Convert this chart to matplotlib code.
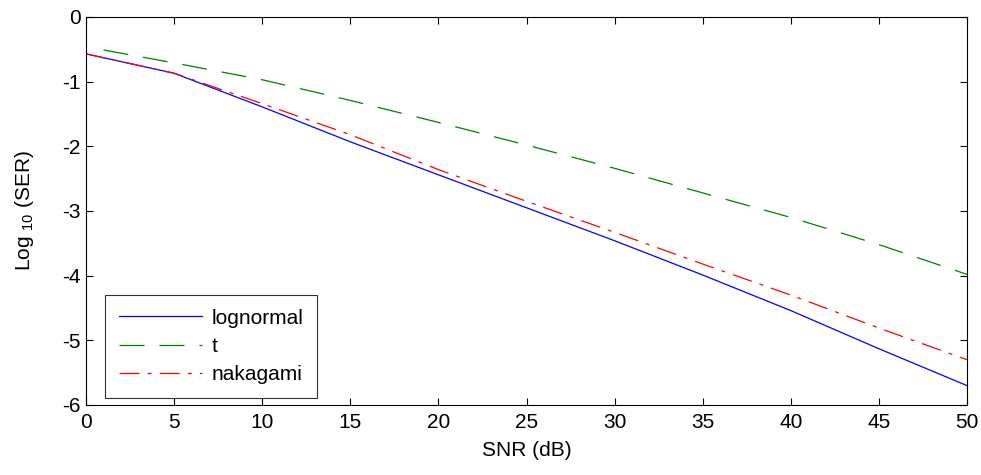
import matplotlib
matplotlib.use("Agg")
import matplotlib.pyplot as plt

snr = [0, 5, 10, 15, 20, 25, 30, 35, 40, 45, 50]
lognormal = [-0.57, -0.87, -1.39, -1.93, -2.44, -2.95, -3.46, -3.99, -4.54, -5.13, -5.70]
nakagami = [-0.57, -0.87, -1.34, -1.82, -2.36, -2.85, -3.33, -3.82, -4.30, -4.81, -5.30]
snr_t = [1, 5, 10, 15, 20, 25, 30, 35, 40, 45, 50]
t_vals = [-0.51, -0.71, -0.97, -1.29, -1.63, -1.98, -2.34, -2.72, -3.10, -3.52, -3.98]

xticks = [0, 5, 10, 15, 20, 25, 30, 35, 40, 45, 50]
yticks = [0, -1, -2, -3, -4, -5, -6]

plt.rcParams['font.family'] = ['Liberation Sans', 'DejaVu Sans']
plt.rcParams['mathtext.fontset'] = 'custom'
plt.rcParams['mathtext.rm'] = 'Liberation Sans'
plt.rcParams['mathtext.it'] = 'Liberation Sans'
plt.rcParams['mathtext.default'] = 'regular'

FS = 15

fig = plt.figure(figsize=(9.81, 4.75), dpi=100)
ax = fig.add_axes([86/981, 1 - 405/475, (967-86)/981, (405-17)/475])

ax.plot(snr, lognormal, color='#0000ff', lw=0.9, label='lognormal')
ax.plot(snr_t, t_vals, color='#008000', lw=0.9, dashes=(20, 12), label='t')
ax.plot(snr, nakagami, color='#ff0000', lw=0.9, dashes=(16, 6.5, 3.2, 6.5), label='nakagami')

ax.set_xlim(0, 50)
ax.set_ylim(-6, 0)
ax.set_xticks(xticks)
ax.set_yticks(yticks)
ax.set_yticklabels([str(v) for v in yticks])
ax.tick_params(direction='in', top=True, right=True, labelsize=FS, length=5, width=0.8)
ax.tick_params(axis='x', pad=6)
ax.tick_params(axis='y', pad=4)
for s in ax.spines.values():
    s.set_linewidth(0.8)

ax.set_xlabel('SNR (dB)', fontsize=FS, labelpad=6)
ax.set_ylabel('Log $_{10}$ (SER)', fontsize=FS, labelpad=19)

leg = ax.legend(loc='lower left', bbox_to_anchor=((105-86)/881, (405-398)/388),
                fontsize=FS, frameon=True, fancybox=False, edgecolor='black',
                handlelength=4.0, borderpad=0.65, labelspacing=0.45, handletextpad=0.45,
                borderaxespad=0)
leg.get_frame().set_linewidth(0.8)

fig.savefig('out.png', dpi=100)
